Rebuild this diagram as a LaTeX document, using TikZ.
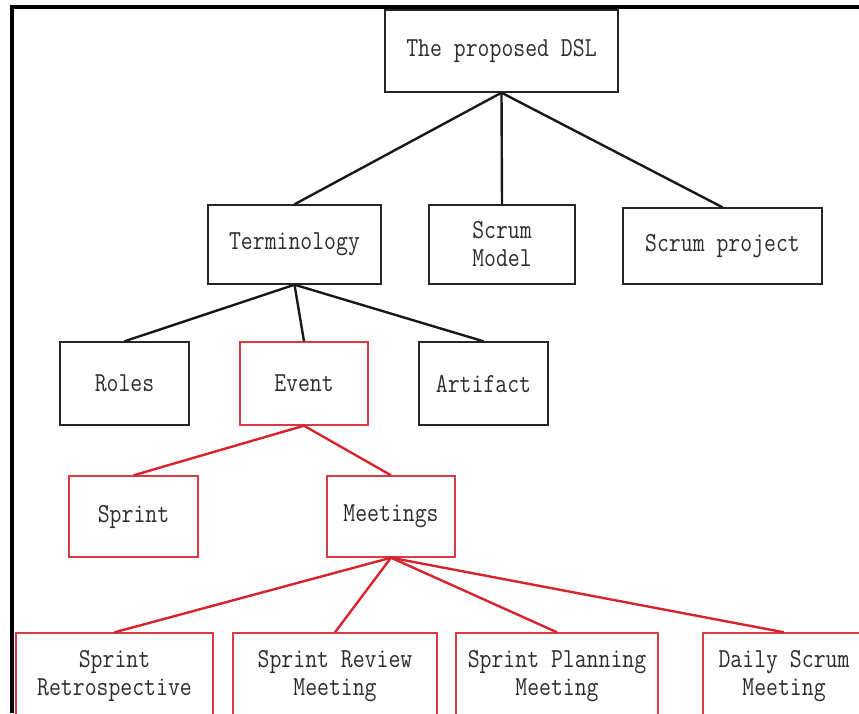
\documentclass[tikz,border=0pt]{standalone}
\usepackage{fontspec}
\newfontfamily\diagfont[FakeStretch=0.84]{Latin Modern Mono}
\definecolor{edgered}{RGB}{215,35,45}
\definecolor{boxred}{RGB}{215,60,70}
\definecolor{txt}{RGB}{45,45,45}
\begin{document}
\begin{tikzpicture}[x=1pt,y=-1pt,
  box/.style={draw=black!85,line width=1.4pt,rectangle,inner sep=0pt,align=center,
    text=txt,font=\diagfont\fontsize{27.5}{28}\selectfont},
  rbox/.style={box,draw=boxred},
  link/.style={draw=black!90,line width=2.4pt},
  rlink/.style={draw=edgered,line width=2.4pt}]
\useasboundingbox (0,0) rectangle (859,713);
\begin{scope}
\clip (0,0) rectangle (859,713);
% frame
\draw[line width=3.2pt,black] (12,713) -- (12,7) -- (859,7);
% nodes
\node[box,minimum width=233pt,minimum height=82pt] (dsl) at (501.5,51) {The proposed DSL};
\node[box,minimum width=173pt,minimum height=79pt] (term) at (294.5,244.5) {Terminology};
\node[box,minimum width=146pt,minimum height=79pt] (model) at (502,244.5) {Scrum\\Model};
\node[box,minimum width=199pt,minimum height=76pt] (proj) at (722.5,246) {Scrum project};
\node[box,minimum width=129pt,minimum height=83pt] (roles) at (124.5,383.5) {Roles};
\node[rbox,minimum width=128pt,minimum height=83pt] (event) at (304,383.5) {Event};
\node[box,minimum width=129pt,minimum height=83pt] (art) at (483.5,383.5) {Artifact};
\node[rbox,minimum width=129pt,minimum height=81pt] (sprint) at (133.5,516.5) {Sprint};
\node[rbox,minimum width=128pt,minimum height=81pt] (meet) at (391,516.5) {Meetings};
\node[rbox,minimum width=197pt,minimum height=86pt] (retro) at (114.5,676) {Sprint\\Retrospective};
\node[rbox,minimum width=204pt,minimum height=86pt] (review) at (335,676) {Sprint Review\\Meeting};
\node[rbox,minimum width=202pt,minimum height=86pt] (plan) at (557,676) {Sprint Planning\\Meeting};
\node[rbox,minimum width=162pt,minimum height=86pt] (daily) at (784,676) {Daily Scrum\\Meeting};
% connectors
\draw[link] (dsl.south) -- (term.north);
\draw[link] (dsl.south) -- (model.north);
\draw[link] (dsl.south) -- (proj.north);
\draw[link] (term.south) -- (roles.north);
\draw[link] (term.south) -- (event.north);
\draw[link] (term.south) -- (art.north);
\draw[rlink] (event.south) -- (sprint.north);
\draw[rlink] (event.south) -- (meet.north);
\draw[rlink] (meet.south) -- (retro.north);
\draw[rlink] (meet.south) -- (review.north);
\draw[rlink] (meet.south) -- (plan.north);
\draw[rlink] (meet.south) -- (daily.north);
\end{scope}
\end{tikzpicture}
\end{document}
